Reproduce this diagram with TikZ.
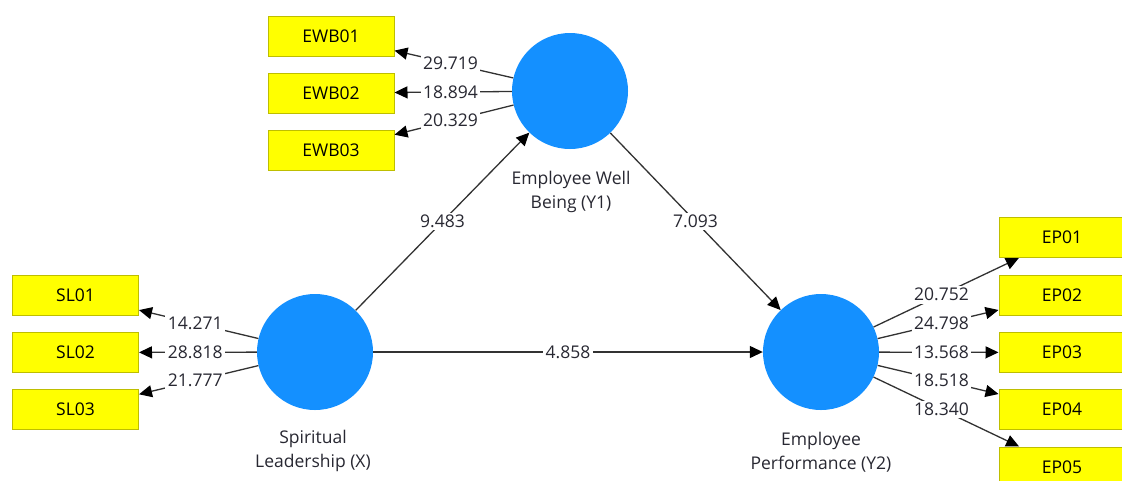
\documentclass[tikz,border=0pt]{standalone}
\usepackage{fontspec}
\setmainfont{Open Sans}
\usetikzlibrary{arrows.meta}
\definecolor{boxfill}{RGB}{255,255,0}
\definecolor{boxborder}{RGB}{190,190,0}
\definecolor{latblue}{RGB}{20,144,255}
\definecolor{linegray}{RGB}{50,50,50}
\definecolor{labelgray}{RGB}{40,40,50}
\newcommand{\lblfont}{\fontsize{17.5}{24}\selectfont}
\begin{document}
\begin{tikzpicture}[x=1pt,y=-1pt,
  indbox/.style={draw=boxborder, line width=1pt, fill=boxfill, minimum width=126pt, minimum height=40pt, inner sep=0pt, font=\lblfont, text=black},
  lat/.style={circle, fill=latblue, minimum size=116pt, inner sep=0pt},
  arr/.style={draw=linegray, line width=1.3pt, -{Triangle[length=13pt,width=12pt,color=black]}},
  coeff/.style={fill=white, inner sep=2.5pt, font=\lblfont, text=labelgray},
  latlabel/.style={align=center, font=\lblfont, text=labelgray}]
\useasboundingbox (0,0) rectangle (1122,480);
\clip (0,0) rectangle (1122,480);
\fill[white] (0,0) rectangle (1122,480);
% latent variables
\node[lat] (ewb) at (570,91) {};
\node[lat] (sl) at (315,352) {};
\node[lat] (ep) at (821,352) {};
\node[latlabel] (ewblbl) at (571,192) {Employee Well\\Being (Y1)};
\node[latlabel] (sllbl) at (313,451) {Spiritual\\Leadership (X)};
\node[latlabel] (eplbl) at (821,452) {Employee\\Performance (Y2)};
% indicators
\node[indbox] (ewb1) at (331,36) {EWB01};
\node[indbox] (ewb2) at (331,93) {EWB02};
\node[indbox] (ewb3) at (331,150.5) {EWB03};
\node[indbox] (sl1) at (75.5,295) {SL01};
\node[indbox] (sl2) at (75.5,352.5) {SL02};
\node[indbox] (sl3) at (75.5,409.5) {SL03};
\node[indbox] (ep1) at (1062,237.5) {EP01};
\node[indbox] (ep2) at (1062,295) {EP02};
\node[indbox] (ep3) at (1062,352.5) {EP03};
\node[indbox] (ep4) at (1062,409) {EP04};
\node[indbox] (ep5) at (1062,467) {EP05};
% connectors
\draw[arr] (ewb) -- (ewb1);
\draw[arr] (ewb) -- (ewb2);
\draw[arr] (ewb) -- (ewb3);
\draw[arr] (sl) -- (sl1);
\draw[arr] (sl) -- (sl2);
\draw[arr] (sl) -- (sl3);
\draw[arr] (ep) -- (ep1);
\draw[arr] (ep) -- (ep2);
\draw[arr] (ep) -- (ep3);
\draw[arr] (ep) -- (ep4);
\draw[arr] (ep) -- (ep5);
\draw[arr] (sl) -- (ewb);
\draw[arr] (ewb) -- (ep);
\draw[arr] (sl) -- (ep);
% coefficients
\path (ewb.center) -- (ewb1.center) node[midway,coeff] {29.719};
\path (ewb.center) -- (ewb2.center) node[midway,coeff] {18.894};
\path (ewb.center) -- (ewb3.center) node[midway,coeff] {20.329};
\path (sl.center) -- (sl1.center) node[midway,coeff] {14.271};
\path (sl.center) -- (sl2.center) node[midway,coeff] {28.818};
\path (sl.center) -- (sl3.center) node[midway,coeff] {21.777};
\path (ep.center) -- (ep1.center) node[midway,coeff] {20.752};
\path (ep.center) -- (ep2.center) node[midway,coeff] {24.798};
\path (ep.center) -- (ep3.center) node[midway,coeff] {13.568};
\path (ep.center) -- (ep4.center) node[midway,coeff] {18.518};
\path (ep.center) -- (ep5.center) node[midway,coeff] {18.340};
\path (sl.center) -- (ewb.center) node[midway,coeff] {9.483};
\path (ewb.center) -- (ep.center) node[midway,coeff] {7.093};
\path (sl.center) -- (ep.center) node[midway,coeff] {4.858};
\end{tikzpicture}
\end{document}
